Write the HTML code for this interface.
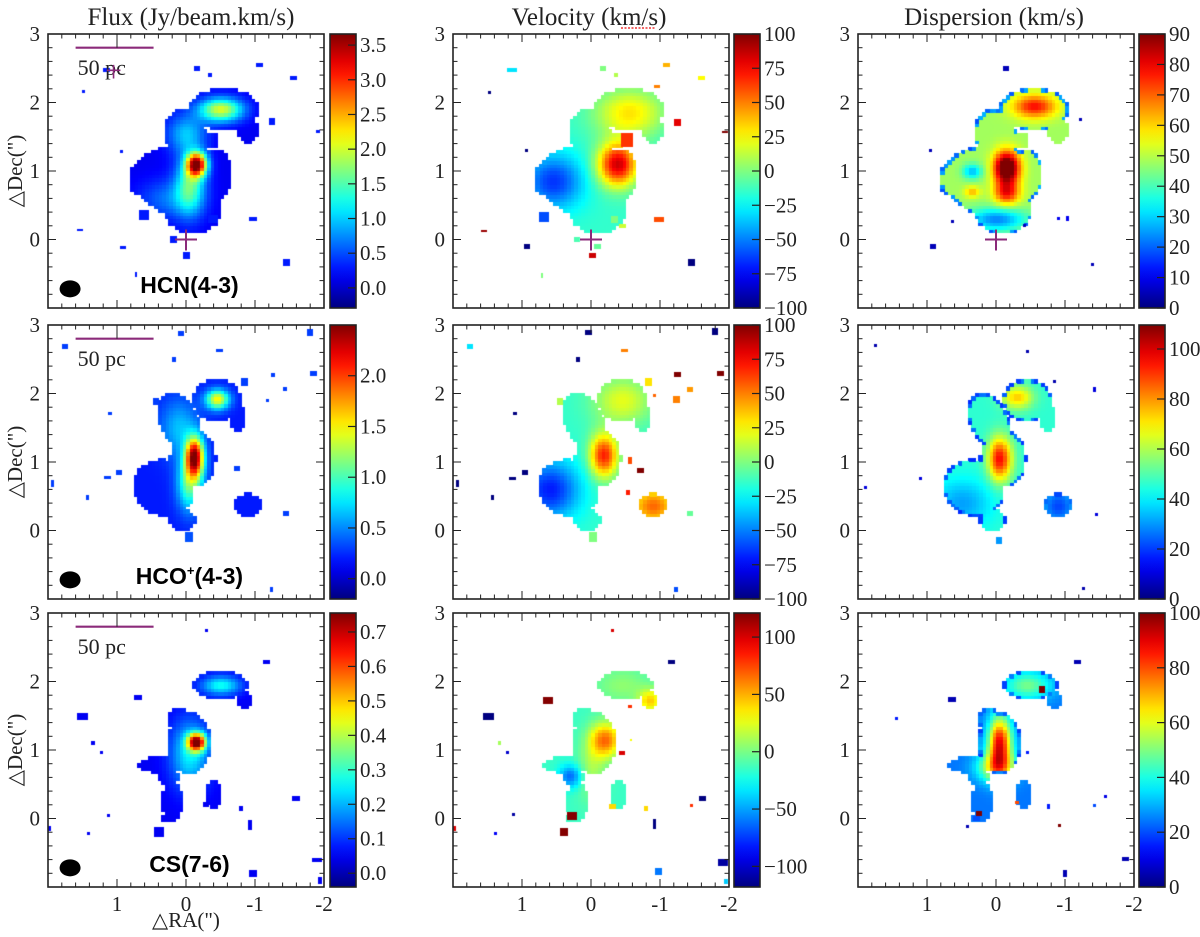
<!DOCTYPE html>
<html><head><meta charset="utf-8">
<style>
html,body{margin:0;padding:0;background:#fff;}
#wrap{position:relative;width:1200px;height:937px;overflow:hidden;}
canvas,svg{position:absolute;left:0;top:0;}
text{font-family:"Liberation Serif",serif;fill:#222;}
</style></head>
<body>
<div id="wrap">
<canvas id="cv" width="1200" height="937"></canvas>
<svg id="sv" width="1200" height="937"></svg>
</div>
<script>
// ---------- layout ----------
const colX=[48,453,858], rowY=[34,325,613], PW=276, PH=274, cbX=[330,734,1139], CBW=26;
// ---------- data: colorbar ranges & ticks ----------
const row1Ranges=[[-0.29,3.66],[-100,100],[0,90]];
const row2Ranges=[[-0.2,2.5],[-100,100],[0,109.6]];
const row3Ranges=[[-0.04,0.755],[-118,121],[0,100]];
const row1Ticks=[["0.0","0.5","1.0","1.5","2.0","2.5","3.0","3.5"],["−100","−75","−50","−25","0","25","50","75","100"],["0","10","20","30","40","50","60","70","80","90"]];
const row2Ticks=[["0.0","0.5","1.0","1.5","2.0"],["−100","−75","−50","−25","0","25","50","75","100"],["0","20","40","60","80","100"]];
const row3Ticks=[["0.0","0.1","0.2","0.3","0.4","0.5","0.6","0.7"],["−100","−50","0","50","100"],["0","20","40","60","80","100"]];
const xTickLabels=["1","0","-1","-2"];
const yTickLabels=["3","2","1","0"];
// ---------- data: emission masks [cx,cy,rx,ry,rotDeg] ----------
const hcnMask=[[0.15,0.95,0.68,0.42,-10],[0.25,0.75,0.55,0.35,30],[-0.1,0.45,0.42,0.36,0],[0.0,1.5,0.3,0.4,-15],[-0.55,1.9,0.5,0.3,0],[-0.9,1.6,0.15,0.2,0],[-0.35,1.45,0.12,0.12,0],[-0.45,0.95,0.22,0.35,0]];
const hcoMask=[[0.32,0.62,0.45,0.4,20],[-0.1,1.05,0.33,0.42,0],[0.1,1.6,0.27,0.42,-25],[-0.45,1.9,0.35,0.3,0],[-0.75,1.65,0.12,0.2,0],[-0.9,0.36,0.2,0.17,0],[0.05,0.15,0.18,0.15,0]];
const csMask=[[-0.5,1.95,0.38,0.2,0],[-0.85,1.72,0.12,0.12,0],[-0.05,1.1,0.3,0.45,0],[0.1,1.45,0.15,0.15,0],[0.35,0.78,0.35,0.12,0],[0.25,0.6,0.15,0.12,0],[0.2,0.25,0.15,0.3,0],[-0.4,0.35,0.12,0.2,0],[0.25,0.02,0.12,0.07,0]];
// ---------- data: field components [amp,cx,cy,sx,sy], base ----------
const hcnFluxBase=0.15, hcnFluxPeaks=[[3.3,-0.15,1.1,0.1,0.12],[1.3,-0.05,0.8,0.15,0.3],[1.9,-0.5,1.9,0.22,0.12],[0.8,0.0,1.55,0.2,0.2],[0.5,0.25,0.6,0.3,0.2]];
const hcnVelBase=-15, hcnVelPeaks=[[-50,0.55,0.85,0.3,0.28],[100,-0.38,1.1,0.2,0.22],[45,-0.55,1.85,0.35,0.25]];
const hcnDispBase=48, hcnDispPeaks=[[55,-0.15,1.05,0.13,0.17],[28,-0.15,0.68,0.13,0.12],[30,-0.55,1.95,0.22,0.12],[-25,0.0,0.3,0.3,0.12],[15,0.35,0.7,0.08,0.06],[-20,0.35,1.0,0.1,0.08]];
const hcoFluxBase=0.2, hcoFluxPeaks=[[2.1,-0.12,1.08,0.09,0.2],[0.9,-0.05,0.7,0.13,0.28],[1.3,-0.45,1.92,0.12,0.1],[0.45,0.1,1.5,0.2,0.3]];
const hcoVelBase=-15, hcoVelPeaks=[[-55,0.6,0.6,0.3,0.3],[85,-0.18,1.1,0.14,0.22],[35,-0.45,1.9,0.3,0.25],[70,-0.9,0.36,0.25,0.2]];
const hcoDispBase=46, hcoDispPeaks=[[50,-0.05,1.05,0.12,0.22],[28,-0.3,1.95,0.16,0.12],[-15,0.5,0.4,0.3,0.25],[-25,-0.9,0.36,0.2,0.2]];
const csFluxBase=0.05, csFluxPeaks=[[0.65,-0.15,1.12,0.09,0.09],[0.2,-0.05,0.95,0.2,0.35],[0.22,-0.5,1.95,0.2,0.1]];
const csVelBase=-15, csVelPeaks=[[80,-0.2,1.15,0.16,0.18],[-50,0.3,0.62,0.12,0.12],[20,-0.45,1.95,0.3,0.2],[55,-0.85,1.72,0.12,0.12],[25,0.0,0.7,0.15,0.3]];
const csDispBase=24, csDispPeaks=[[65,-0.05,1.1,0.12,0.28],[25,-0.45,1.95,0.25,0.15],[35,0.0,0.75,0.2,0.15]];
// ---------- data: isolated pixels [x,y,w,h,value] ----------
const hcnFluxSpecks=[[0.91,-0.11,0.08,0.04,0.3],[0.6,0.35,0.15,0.15,0.3],[-0.4,0.3,0.15,0.12,0.3],[-0.98,0.3,0.12,0.06,0.3],[-1.45,-0.33,0.1,0.1,0.3],[-0.15,2.5,0.08,0.08,0.3],[-0.35,2.4,0.06,0.06,0.3],[-1.07,2.55,0.1,0.06,0.3],[-1.56,2.36,0.1,0.06,0.3],[-1.24,1.73,0.08,0.1,0.3],[-1.92,1.58,0.06,0.04,0.3],[1.15,2.48,0.1,0.06,0.3],[1.49,2.16,0.04,0.04,0.3],[0.93,1.29,0.04,0.04,0.3],[1.54,0.14,0.08,0.03,0.3],[-0.01,-0.23,0.1,0.1,0.3],[0.18,0.0,0.1,0.1,0.3],[0.72,-0.52,0.03,0.08,0.3]];
const hcnVelSpecks=[[1.14,2.48,0.15,0.06,-30],[-0.17,2.5,0.08,0.08,0],[-0.36,2.4,0.06,0.06,10],[-1.09,2.55,0.1,0.06,40],[-1.6,2.36,0.1,0.06,25],[-0.95,2.24,0.08,0.04,50],[-1.26,1.71,0.1,0.1,80],[-1.94,1.57,0.08,0.03,100],[1.48,2.15,0.04,0.04,-100],[0.94,1.3,0.04,0.04,-100],[1.56,0.13,0.08,0.03,95],[0.68,0.32,0.15,0.15,-60],[0.93,-0.11,0.08,0.08,-100],[-0.98,0.29,0.14,0.07,60],[-0.34,0.3,0.1,0.1,0],[-0.46,0.2,0.1,0.06,15],[0.2,0.0,0.08,0.08,-10],[-0.09,-0.11,0.1,0.08,-5],[-0.02,-0.24,0.1,0.08,85],[-1.46,-0.33,0.1,0.1,-100],[0.71,-0.52,0.03,0.07,0],[-0.53,1.45,0.18,0.2,65]];
const hcnDispSpecks=[[-0.14,2.5,0.08,0.08,5],[0.95,1.3,0.04,0.04,5],[-1.22,1.75,0.04,0.04,5],[0.92,-0.11,0.08,0.08,5],[0.63,0.26,0.04,0.04,5],[-0.41,0.21,0.04,0.04,5],[-0.9,0.31,0.04,0.04,10],[-1.04,0.3,0.05,0.08,10],[-1.4,-0.37,0.04,0.04,5]];
const hcoFluxSpecks=[[0.08,2.87,0.08,0.08,0.3],[-0.49,2.62,0.1,0.05,0.3],[-1.8,2.89,0.08,0.1,0.3],[-1.85,2.29,0.1,0.08,0.3],[-1.26,2.27,0.06,0.06,0.3],[-1.43,2.06,0.06,0.06,0.3],[-1.18,1.9,0.05,0.05,0.3],[-0.85,2.17,0.1,0.12,0.3],[0.18,2.49,0.06,0.08,0.3],[1.75,2.68,0.08,0.08,0.3],[0.44,1.89,0.08,0.1,0.3],[1.1,1.71,0.06,0.04,0.3],[0.97,0.85,0.08,0.08,0.3],[1.14,0.78,0.1,0.04,0.3],[1.42,0.48,0.05,0.08,0.3],[1.93,0.68,0.04,0.1,0.3],[-1.44,0.25,0.08,0.08,0.3],[-1.24,-0.87,0.05,0.08,0.3],[-0.73,0.9,0.08,0.08,0.3],[-0.04,-0.1,0.12,0.15,0.35]];
const hcoVelSpecks=[[1.75,2.68,0.08,0.08,-30],[0.04,2.88,0.1,0.08,-100],[-1.8,2.9,0.08,0.1,-100],[0.19,2.49,0.06,0.08,-100],[-0.49,2.62,0.1,0.05,50],[-1.26,2.27,0.1,0.08,100],[-1.88,2.29,0.1,0.08,100],[-0.83,2.17,0.1,0.12,30],[-1.43,2.06,0.08,0.08,45],[-1.24,1.91,0.1,0.1,50],[-0.93,1.97,0.05,0.05,55],[0.46,1.89,0.08,0.1,10],[1.1,1.71,0.06,0.04,-100],[0.96,0.85,0.08,0.08,-100],[1.14,0.76,0.1,0.04,-100],[1.42,0.48,0.05,0.08,-100],[1.93,0.68,0.04,0.1,-100],[-0.72,0.87,0.1,0.08,100],[-0.54,0.55,0.06,0.08,70],[-1.43,0.25,0.08,0.08,-5],[-0.03,-0.1,0.12,0.15,0],[-1.24,-0.87,0.06,0.08,-60],[-0.57,1.03,0.06,0.1,60]];
const hcoDispSpecks=[[1.75,2.7,0.04,0.04,5],[-0.46,2.62,0.04,0.04,5],[-0.85,2.17,0.04,0.04,5],[-1.43,2.06,0.05,0.08,10],[-0.04,-0.15,0.08,0.1,30],[-1.26,-0.85,0.04,0.04,5],[1.1,0.76,0.04,0.04,10],[-1.46,0.24,0.04,0.04,10],[1.9,0.63,0.04,0.04,10]];
const csFluxSpecks=[[0.39,-0.2,0.15,0.15,0.05],[0.7,1.76,0.12,0.08,0.05],[1.5,1.49,0.16,0.1,0.05],[-1.6,0.3,0.12,0.07,0.05],[-0.97,-0.8,0.12,0.1,0.05],[-0.93,-0.1,0.06,0.15,0.05],[-1.17,2.28,0.1,0.06,0.05],[1.35,1.1,0.06,0.06,0.05],[-1.9,-0.6,0.15,0.06,0.05],[-1.95,-0.9,0.06,0.1,0.05],[1.98,-0.15,0.04,0.08,0.05],[1.12,0.05,0.04,0.04,0.05],[1.42,-0.21,0.04,0.04,0.05],[1.22,0.96,0.04,0.04,0.05],[-0.3,2.75,0.04,0.04,0.05],[-0.28,0.2,0.08,0.08,0.05],[-0.8,0.14,0.06,0.08,0.05]];
const csVelSpecks=[[-0.31,2.75,0.04,0.04,100],[-1.16,2.28,0.1,0.06,-120],[0.62,1.73,0.15,0.1,120],[1.49,1.49,0.16,0.1,-120],[1.33,1.1,0.05,0.06,10],[1.21,0.96,0.04,0.04,-100],[1.13,0.06,0.04,0.04,-110],[1.38,-0.21,0.04,0.04,-90],[1.98,-0.15,0.04,0.08,100],[0.27,0.03,0.15,0.12,120],[0.39,-0.2,0.12,0.12,120],[-0.31,0.17,0.1,0.08,40],[-0.8,0.14,0.06,0.08,40],[-1.45,0.19,0.04,0.04,80],[-1.62,0.3,0.1,0.07,-120],[-0.92,-0.08,0.05,0.15,-120],[-0.44,0.95,0.08,0.06,100],[-0.58,1.14,0.03,0.03,30],[-0.56,1.63,0.06,0.04,80],[-0.98,-0.77,0.1,0.1,-60],[-1.91,-0.64,0.15,0.1,-110],[-1.96,-0.93,0.06,0.08,-40]];
const csDispSpecks=[[-1.18,2.28,0.1,0.06,5],[0.64,1.73,0.12,0.08,5],[1.44,1.46,0.04,0.04,15],[-0.67,1.88,0.08,0.1,100],[0.25,0.07,0.08,0.08,100],[-0.92,-0.1,0.05,0.05,100],[-0.3,0.24,0.06,0.04,80],[-0.76,0.17,0.04,0.08,15],[-1.42,0.19,0.04,0.04,20],[-1.58,0.32,0.04,0.04,10],[-1.87,-0.59,0.1,0.06,5],[-1.0,-0.8,0.06,0.1,5],[0.41,-0.12,0.04,0.04,5],[0.28,0.0,0.1,0.08,20],[-0.45,0.96,0.04,0.04,15]];

// ---------- panel table ----------
const rowMasks=[hcnMask,hcoMask,csMask];
const rowRanges=[row1Ranges,row2Ranges,row3Ranges];
const rowTicks=[row1Ticks,row2Ticks,row3Ticks];
const rowFields=[
 [[hcnFluxBase,hcnFluxPeaks,hcnFluxSpecks],[hcnVelBase,hcnVelPeaks,hcnVelSpecks],[hcnDispBase,hcnDispPeaks,hcnDispSpecks]],
 [[hcoFluxBase,hcoFluxPeaks,hcoFluxSpecks],[hcoVelBase,hcoVelPeaks,hcoVelSpecks],[hcoDispBase,hcoDispPeaks,hcoDispSpecks]],
 [[csFluxBase,csFluxPeaks,csFluxSpecks],[csVelBase,csVelPeaks,csVelSpecks],[csDispBase,csDispPeaks,csDispSpecks]]];
const lineNames=["HCN(4-3)","HCO+(4-3)","CS(7-6)"];
const colTitles=["Flux (Jy/beam.km/s)","Velocity (km/s)","Dispersion (km/s)"];

// ---------- helpers ----------
function clamp(v){return Math.max(0,Math.min(1,v));}
function jet(t){t=clamp(t);const r=clamp(1.5-Math.abs(4*t-3)),g=clamp(1.5-Math.abs(4*t-2)),b=clamp(1.5-Math.abs(4*t-1));return `rgb(${Math.round(r*255)},${Math.round(g*255)},${Math.round(b*255)})`;}
function xS(c,v){return colX[c]+(2-v)/4*PW;}
function yS(r,v){return rowY[r]+(3-v)/4*PH;}
function insideness(mask,x,y){let best=-1e9;for(const m of mask){const a=-m[4]*Math.PI/180;let dx=x-m[0],dy=y-m[1];const rx=dx*Math.cos(a)-dy*Math.sin(a),ry=dx*Math.sin(a)+dy*Math.cos(a);const s=1-((rx/m[2])**2+(ry/m[3])**2);if(s>best)best=s;}return best;}
function field(base,peaks,x,y){let v=base;for(const p of peaks){v+=p[0]*Math.exp(-(((x-p[1])/p[3])**2+((y-p[2])/p[4])**2)/2);}return v;}

const cv=document.getElementById('cv'),ctx=cv.getContext('2d');
const NS='http://www.w3.org/2000/svg',sv=document.getElementById('sv');
function el(tag,attrs,parent){const e=document.createElementNS(NS,tag);for(const k in attrs)e.setAttribute(k,attrs[k]);(parent||sv).appendChild(e);return e;}

const step=0.05;
for(let r=0;r<3;r++){
 for(let c=0;c<3;c++){
  const [lo,hi]=rowRanges[r][c];
  const [base,peaks,specks]=rowFields[r][c];
  const mask=rowMasks[r];
  ctx.save();ctx.beginPath();ctx.rect(colX[c],rowY[r],PW,PH);ctx.clip();
  for(let gx=-2;gx<2;gx+=step){for(let gy=-1;gy<3;gy+=step){
    const x=gx+step/2,y=gy+step/2;
    const s=insideness(mask,x,y);
    if(s<0)continue;
    let v=field(base,peaks,x,y);
    if(c===2&&s<0.12)v=Math.min(v,18+(s*80));
    ctx.fillStyle=jet((v-lo)/(hi-lo));
    const x0=Math.floor(xS(c,gx+step)),x1=Math.ceil(xS(c,gx)),y0=Math.floor(yS(r,gy+step)),y1=Math.ceil(yS(r,gy));
    ctx.fillRect(x0,y0,x1-x0,y1-y0);
  }}
  for(const sp of specks){
    ctx.fillStyle=jet((sp[4]-lo)/(hi-lo));
    const x0=xS(c,sp[0]+sp[2]/2),x1=xS(c,sp[0]-sp[2]/2),y0=yS(r,sp[1]+sp[3]/2),y1=yS(r,sp[1]-sp[3]/2);
    ctx.fillRect(Math.round(x0),Math.round(y0),Math.max(2,Math.round(x1-x0)),Math.max(2,Math.round(y1-y0)));
  }
  ctx.restore();
  const g=ctx.createLinearGradient(0,rowY[r]+PH,0,rowY[r]);
  for(let i=0;i<=20;i++)g.addColorStop(i/20,jet(i/20));
  ctx.fillStyle=g;ctx.fillRect(cbX[c],rowY[r],CBW,PH);
 }
}

// ---------- SVG overlay ----------
for(let c=0;c<3;c++){
 const t=el('text',{x:colX[c]+PW/2+(c===0?5:-2),y:25,'text-anchor':'middle','font-size':25});
 t.textContent=colTitles[c];
 
 
}
el('line',{x1:621,y1:28,x2:656,y2:28,stroke:'#e33','stroke-width':1.5,'stroke-dasharray':'2,1.5'});

for(let r=0;r<3;r++){
 for(let c=0;c<3;c++){
  const gp=el('g',{});
  
  
  const X=colX[c],Y=rowY[r];
  el('rect',{x:X,y:Y,width:PW,height:PH,fill:'none',stroke:'#222','stroke-width':1.6},gp);
  for(let k=0;k<=20;k++){
   const v=-2+k*0.2;
   const major=Math.abs(v-Math.round(v))<1e-6;const L=major?8:4.5;const xx=xS(c,v);
   el('line',{x1:xx,y1:Y,x2:xx,y2:Y+L,stroke:'#222','stroke-width':1},gp);
   el('line',{x1:xx,y1:Y+PH,x2:xx,y2:Y+PH-L,stroke:'#222','stroke-width':1},gp);
   const vy=-1+k*0.2;const yy=yS(r,vy);const majY=Math.abs(vy-Math.round(vy))<1e-6;const LY=majY?8:4.5;
   el('line',{x1:X,y1:yy,x2:X+LY,y2:yy,stroke:'#222','stroke-width':1},gp);
   el('line',{x1:X+PW,y1:yy,x2:X+PW-LY,y2:yy,stroke:'#222','stroke-width':1},gp);
  }
  yTickLabels.forEach((s,i)=>{const t=el('text',{x:X-8,y:yS(r,3-i)+7,'text-anchor':'end','font-size':21},gp);t.textContent=s;
   });
  if(r===2){xTickLabels.forEach((s,i)=>{const t=el('text',{x:xS(c,1-i),y:Y+PH+24,'text-anchor':'middle','font-size':21},gp);t.textContent=s;
   });}
  if(r===0){const cx=xS(c,0),cy=yS(r,0);el('path',{d:`M${cx-11} ${cy}H${cx+11}M${cx} ${cy-10}V${cy+11}`,stroke:'#8b2a7a','stroke-width':2},gp);}
  const cb=el('g',{});
  
  
  el('rect',{x:cbX[c],y:Y,width:CBW,height:PH,fill:'none',stroke:'#222','stroke-width':1.6},cb);
  const [lo,hi]=rowRanges[r][c];
  rowTicks[r][c].forEach(s=>{const v=parseFloat(s.replace('−','-'));const yy=Y+PH-(v-lo)/(hi-lo)*PH;
   el('line',{x1:cbX[c]+CBW,y1:yy,x2:cbX[c]+CBW-8,y2:yy,stroke:'#222','stroke-width':1.2},cb);
   const t=el('text',{x:cbX[c]+CBW+4,y:yy+7,'font-size':21},cb);t.textContent=s;
   });
 }
 const yc=rowY[r]+PH/2;
 const yt=el('text',{x:22,y:yc,'text-anchor':'middle','font-size':21,transform:`rotate(-90 22 ${yc})`,fill:'#555'});
 yt.textContent='△Dec(")';
 
 const sy=yS(r,2.8),sx0=xS(0,1.6),sx1=xS(0,0.47);
 const sb=el('g',{});
 
 el('line',{x1:sx0,y1:sy,x2:sx1,y2:sy,stroke:'#8b2a7a','stroke-width':2.2},sb);
 el('line',{x1:xS(0,1),y1:rowY[r],x2:xS(0,1),y2:sy,stroke:'#222','stroke-width':1},sb);
 const st=el('text',{x:sx0+2,y:yS(r,2.4),'font-size':22,fill:'#8b2a7a'},sb);st.textContent='50 pc';
 
 const bm=el('ellipse',{cx:xS(0,1.68),cy:yS(r,-0.72),rx:10.5,ry:8.5,fill:'#000'});
 
 const ln=el('text',{x:xS(0,-0.05),y:yS(r,-0.78),'text-anchor':'middle','font-size':23,style:'font-family:"Liberation Sans",sans-serif;font-weight:bold;fill:#000'});
 if(r===1){ln.innerHTML='HCO<tspan font-size="13" dy="-9">+</tspan><tspan dy="9">(4-3)</tspan>';}
 else ln.textContent=lineNames[r];
 
}
el('path',{d:`M${xS(0,1.15)} ${yS(0,2.47)}H${xS(0,0.95)}M${xS(0,1.05)} ${yS(0,2.55)}V${yS(0,2.35)}`,stroke:'#8b2a7a','stroke-width':1.6});
const xt=el('text',{x:xS(0,0),y:927,'text-anchor':'middle','font-size':21,fill:'#555'});
xt.textContent='△RA(")';

</script>
</body></html>
